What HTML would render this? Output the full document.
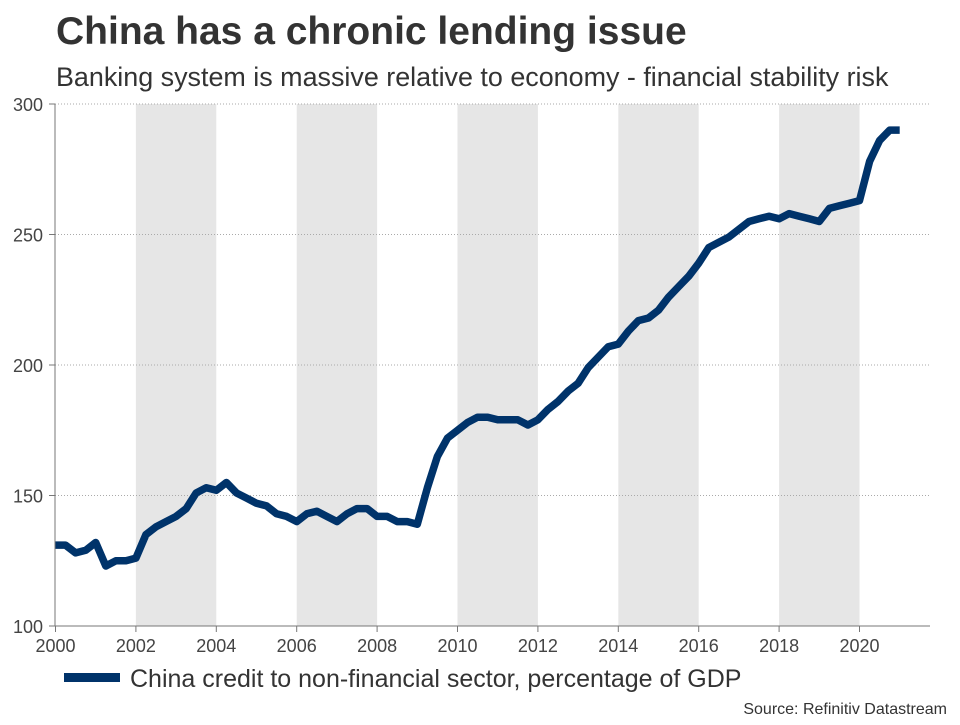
<!DOCTYPE html>
<html><head><meta charset="utf-8"><style>
body{margin:0;background:#fff;width:960px;height:720px;overflow:hidden;font-family:"Liberation Sans",sans-serif}
</style></head><body>
<svg width="960" height="720">
<text x="56" y="44" font-size="39" font-weight="bold" fill="#333">China has a chronic lending issue</text>
<text x="56" y="86" font-size="26.9" fill="#333">Banking system is massive relative to economy - financial stability risk</text>
<g id="bands"></g><g id="grid"></g><g id="axes"></g>
<path id="line" fill="none" stroke="#00336a" stroke-width="7.5" stroke-linejoin="round"/>
<rect x="64" y="673" width="56" height="9" fill="#00336a"/>
<text x="130" y="687" font-size="25" fill="#333">China credit to non-financial sector, percentage of GDP</text>
<text x="947" y="714" font-size="16" fill="#333" text-anchor="end">Source: Refinitiv Datastream</text>
</svg>
<script>
const yTicks=[100,150,200,250,300];
const xTicks=[2000,2002,2004,2006,2008,2010,2012,2014,2016,2018,2020];
const bandStarts=[2002,2006,2010,2014,2018];
const startYear=2000;
const values=[131,131,128,129,132,123,125,125,126,135,138,140,142,145,151,153,152,155,151,149,147,146,143,142,140,143,144,142,140,143,145,145,142,142,140,140,139,153,165,172,175,178,180,180,179,179,179,177,179,183,186,190,193,199,203,207,208,213,217,218,221,226,230,234,239,245,247,249,252,255,256,257,256,258,257,256,255,260,261,262,263,278,286,290,290];
const NS="http://www.w3.org/2000/svg";
const x=v=>55.5+(v-2000)*40.2, y=v=>626-(v-100)*2.61;
function mk(t,a,p){const e=document.createElementNS(NS,t);for(const k in a)e.setAttribute(k,a[k]);document.getElementById(p).appendChild(e);return e;}
bandStarts.forEach(b=>{const r=mk('rect',{x:x(b),y:104,width:x(b+2)-x(b),height:522,fill:'#e6e6e6'},'bands');

});
yTicks.forEach(t=>{if(t>100){const l=mk('line',{x1:55,x2:930,y1:y(t),y2:y(t),stroke:'#aaa','stroke-dasharray':'1,2'},'grid');

}
mk('line',{x1:49,x2:55,y1:y(t),y2:y(t),stroke:'#777'},'axes');
const tx=mk('text',{x:43,y:y(t)+7,'font-size':18,fill:'#444','text-anchor':'end'},'axes');tx.textContent=t;

});
xTicks.forEach(t=>{mk('line',{x1:x(t),x2:x(t),y1:626,y2:632,stroke:'#777'},'axes');
const tx=mk('text',{x:x(t),y:652,'font-size':18,fill:'#444','text-anchor':'middle'},'axes');tx.textContent=t;

});
const ax=mk('path',{d:'M55,104V626H930',stroke:'#777',fill:'none'},'axes');


document.getElementById('line').setAttribute('d',values.map((v,i)=>(i?'L':'M')+x(startYear+i/4).toFixed(1)+','+y(v).toFixed(1)).join(''));
</script>
</body></html>
